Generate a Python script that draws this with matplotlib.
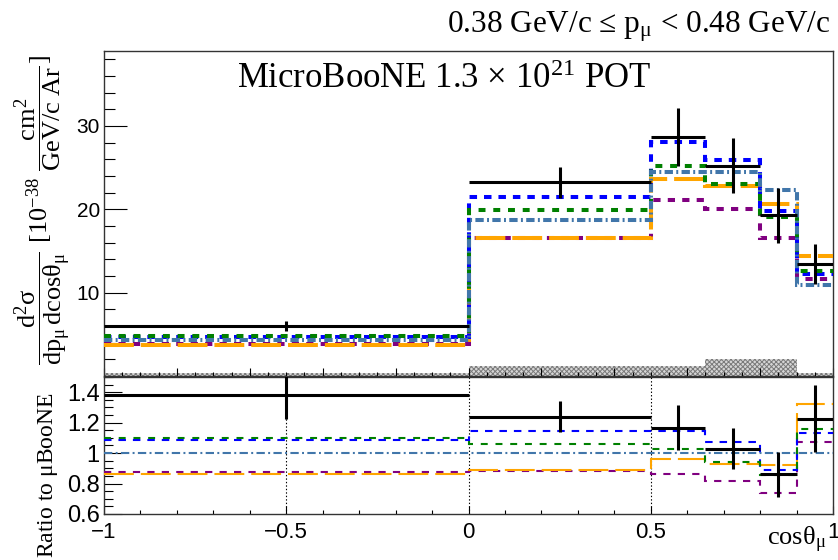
import numpy as np
import matplotlib
matplotlib.use("Agg")
import matplotlib.pyplot as plt
from matplotlib.ticker import FixedLocator, MultipleLocator

plt.rcParams['font.family'] = ['Liberation Sans', 'DejaVu Sans']
plt.rcParams['mathtext.fontset'] = 'custom'
plt.rcParams['mathtext.rm'] = 'Liberation Serif'
plt.rcParams['mathtext.it'] = 'Liberation Serif:italic'
plt.rcParams['mathtext.bf'] = 'Liberation Serif:bold'
plt.rcParams['lines.scale_dashes'] = False
plt.rcParams['hatch.linewidth'] = 0.7

# cos(theta_mu) bin edges
edges = [-1.0, 0.0, 0.5, 0.65, 0.8, 0.9, 1.0]

# cross sections [1e-38 cm2 / (GeV/c Ar)]
data = [6.0, 23.25, 28.7, 25.25, 19.3, 13.4]
data_err = [0.6, 1.85, 3.5, 3.3, 3.3, 2.4]
pred_steel = [4.35, 18.75, 24.5, 24.45, 22.3, 10.95]
pred_blue = [4.74, 21.45, 28.07, 25.9, 19.8, 12.2]
pred_green = [4.79, 19.9, 25.2, 23.0, 19.1, 12.6]
pred_purple = [3.81, 16.6, 21.1, 20.0, 16.6, 11.7]
pred_orange = [3.76, 16.6, 23.6, 22.8, 20.6, 14.37]
band = [0.4, 1.25, 1.25, 2.1, 2.1, 0.4]

# ratio to uBooNE tune
ratio_data = [1.38, 1.24, 1.168, 1.03, 0.86, 1.225]
ratio_data_err = [0.157, 0.10, 0.146, 0.137, 0.148, 0.22]
ratio_steel = [1.0, 1.0, 1.0, 1.0, 1.0, 1.0]
ratio_blue = [1.089, 1.146, 1.146, 1.07, 0.89, 1.13]
ratio_green = [1.102, 1.063, 1.028, 0.94, 0.857, 1.16]
ratio_purple = [0.875, 0.88, 0.863, 0.82, 0.74, 1.07]
ratio_orange = [0.865, 0.89, 0.96, 0.927, 0.92, 1.32]

edges_a = np.array(edges)
centers = 0.5 * (edges_a[1:] + edges_a[:-1])
halfw = 0.5 * (edges_a[1:] - edges_a[:-1])

styles = {
    'purple': dict(color='#800080', dashes=(5.2, 5.2)),
    'orange': dict(color='#ffa500', dashes=(21.5, 5.0)),
    'blue': dict(color='#0000ff', dashes=(5.4, 5.0)),
    'green': dict(color='#008000', dashes=(5.0, 5.6)),
    'steel': dict(color='#4176aa', dashes=(6.0, 2.4, 1.4, 2.4)),
}

fig = plt.figure(figsize=(8.38, 5.6), dpi=100)
W, H = 838.0, 560.0
ax1 = fig.add_axes([104 / W, 1 - 376 / H, (833 - 104) / W, (376 - 51) / H])
ax2 = fig.add_axes([104 / W, 1 - 514 / H, (833 - 104) / W, (514 - 377) / H])

# ---- top panel
ax1.stairs(band, edges, fill=True, baseline=0, facecolor='#d6d6d6',
           edgecolor='#7a7a7a', hatch='xxxxxxx', lw=0, zorder=1)
top = [('purple', pred_purple), ('orange', pred_orange), ('blue', pred_blue),
       ('green', pred_green), ('steel', pred_steel)]
for name, vals in top:
    st = styles[name]
    ln = ax1.stairs(vals, edges, baseline=None, color=st['color'], lw=2.9, zorder=3)
    ln.set_linestyle((0, st['dashes']))
ax1.errorbar(centers, data, xerr=halfw, yerr=data_err, fmt='none',
             ecolor='black', elinewidth=2.2, capsize=0, zorder=5)

ax1.set_xlim(-1, 1)
ax1.set_ylim(0, 39)
ax1.yaxis.set_major_locator(FixedLocator([10, 20, 30]))
ax1.yaxis.set_minor_locator(MultipleLocator(2))
ax1.xaxis.set_major_locator(MultipleLocator(0.2))
ax1.xaxis.set_minor_locator(MultipleLocator(0.05))
ax1.tick_params(axis='y', which='major', direction='in', length=16.5, width=0.8,
                labelsize=15, pad=3)
ax1.tick_params(axis='y', which='minor', direction='in', length=8, width=0.8)
ax1.tick_params(axis='x', which='major', direction='in', length=5.5, width=0.8,
                labelbottom=False)
ax1.tick_params(axis='x', which='minor', direction='in', length=2.8, width=0.8)

ax1.text((237 - 104) / 729.0, 1 - (88 - 51) / 325.0,
         r'MicroBooNE 1.3 $\times$ 10$^{21}$ POT', transform=ax1.transAxes,
         ha='left', va='baseline', fontsize=25, family='Liberation Serif')

# ---- ratio panel
for xv in [-0.5, 0.0, 0.5]:
    ax2.axvline(xv, color='black', ls=(0, (1, 1.5)), lw=0.8, zorder=1)
bottom = [('purple', ratio_purple), ('orange', ratio_orange), ('blue', ratio_blue),
          ('green', ratio_green), ('steel', ratio_steel)]
for name, vals in bottom:
    st = styles[name]
    ln = ax2.stairs(vals, edges, baseline=None, color=st['color'], lw=1.5, zorder=3)
    ln.set_linestyle((0, st['dashes']))
ax2.errorbar(centers, ratio_data, xerr=halfw, yerr=ratio_data_err, fmt='none',
             ecolor='black', elinewidth=2.2, capsize=0, zorder=5)

ax2.set_xlim(-1, 1)
ax2.set_ylim(0.6, 1.5)
ax2.yaxis.set_major_locator(FixedLocator([0.6, 0.8, 1.0, 1.2, 1.4]))
ax2.set_yticklabels(['0.6', '0.8', '1', '1.2', '1.4'])
ax2.yaxis.set_minor_locator(MultipleLocator(0.05))
ax2.xaxis.set_major_locator(FixedLocator([-1, -0.5, 0, 0.5, 1]))
ax2.set_xticklabels(['\u22121', '\u22120.5', '0', '0.5', '1'])
ax2.xaxis.set_minor_locator(MultipleLocator(0.1))
ax2.tick_params(axis='y', which='major', direction='in', length=13, width=0.8,
                labelsize=17, pad=3)
ax2.tick_params(axis='y', which='minor', direction='in', length=6.5, width=0.8)
ax2.tick_params(axis='x', which='major', direction='in', length=5.5, width=0.8,
                labelsize=16, pad=6)
ax2.tick_params(axis='x', which='minor', direction='in', length=2.8, width=0.8)

for ax in (ax1, ax2):
    for sp in ax.spines.values():
        sp.set_color('#333333')
        sp.set_linewidth(1.0)

# ---- labels and title
fig.text(831 / W, 1 - 32 / H, r'0.38 GeV/c ≤ p$_{\mathrm{μ}}$ < 0.48 GeV/c',
         ha='right', va='baseline', fontsize=22.5, family='Liberation Serif')
fig.text(43 / W, 1 - 210 / H,
         r'$\dfrac{\mathrm{d^{2}σ}}{\mathrm{dp_{μ}\,dcosθ_{μ}}}$ $\mathrm{[10^{-38}}$ '
         r'$\dfrac{\mathrm{cm^{2}}}{\mathrm{GeV/c\ Ar}}\mathrm{]}$',
         rotation=90, ha='center', va='center', fontsize=19)
fig.text(48 / W, 1 - 392 / H, r'Ratio to $\mathrm{μ}$BooNE', rotation=90,
         ha='center', va='top', fontsize=17, family='Liberation Serif')
fig.text(826 / W, 1 - 545 / H, r'cos$\mathrm{θ_{μ}}$', ha='right',
         va='baseline', fontsize=19, family='Liberation Serif')

fig.savefig('out.png', dpi=100)
